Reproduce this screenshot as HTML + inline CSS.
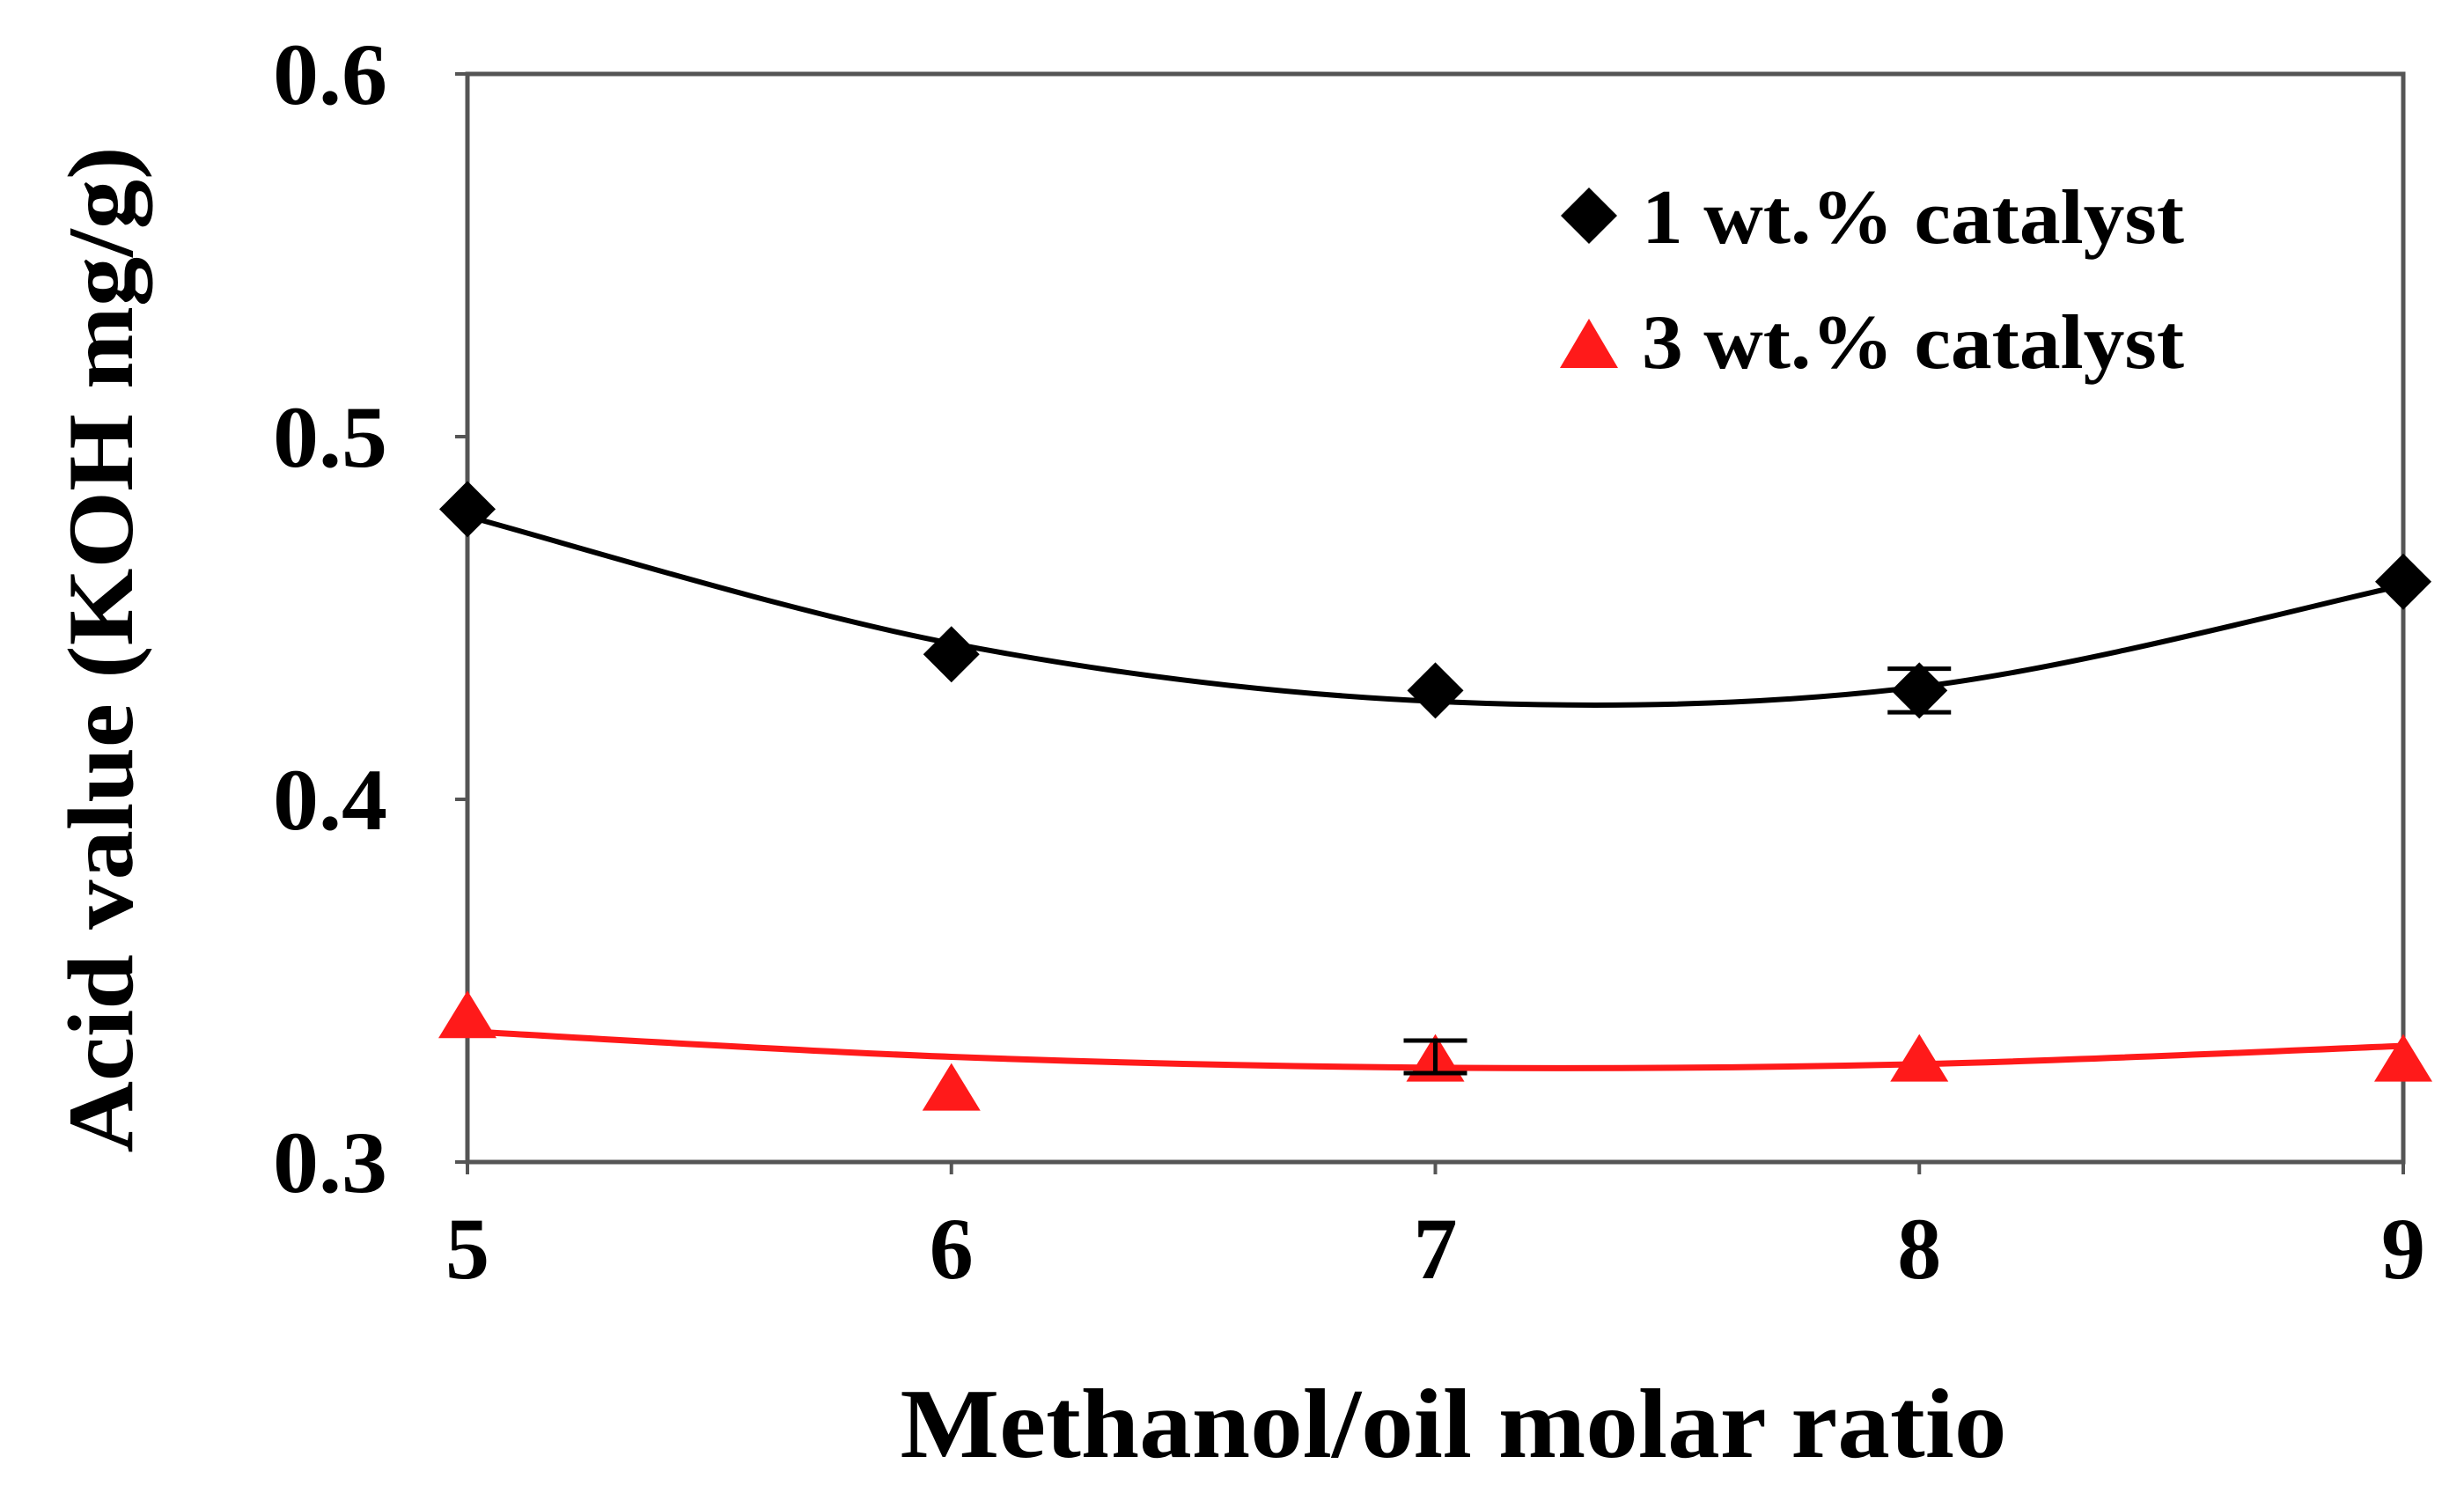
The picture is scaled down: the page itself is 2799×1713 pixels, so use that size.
<!DOCTYPE html>
<html><head><meta charset="utf-8"><style>html,body{margin:0;padding:0;background:#fff;}svg{display:block;}</style></head>
<body>
<svg id="chart" width="2799" height="1713" xmlns="http://www.w3.org/2000/svg" font-family="'Liberation Serif', serif" font-weight="bold"></svg>
<script>
const categories = [5, 6, 7, 8, 9];
const series1 = [0.48, 0.44, 0.43, 0.43, 0.46];
const series1Trend = [0.478, 0.443, 0.427, 0.431, 0.459];
const series2 = [0.34, 0.32, 0.328, 0.328, 0.328];
const series2Trend = [0.336, 0.329, 0.326, 0.327, 0.332];
const yTicks = [0.3, 0.4, 0.5, 0.6];
const yTickLabels = ["0.3", "0.4", "0.5", "0.6"];
const err1 = [0, 0, 0, 0.006, 0];
const err2 = [0, 0, 0.0045, 0, 0];

const svg = document.getElementById('chart');
const NS = 'http://www.w3.org/2000/svg';
const L = 531, R = 2730, T = 84, B = 1320;
const xS = v => L + (v - 5) / 4 * (R - L);
const yS = v => B - (v - 0.3) / 0.3 * (B - T);
function mk(tag, attrs, parent) {
  const e = document.createElementNS(NS, tag);
  for (const k in attrs) e.setAttribute(k, attrs[k]);
  (parent || svg).appendChild(e);
  return e;
}
const frame = mk('rect', {x: L, y: T, width: R - L, height: B - T, fill: 'none', stroke: '#555', 'stroke-width': 5});


yTicks.forEach((v, i) => {
  const t = mk('line', {x1: L - 14, x2: L, y1: yS(v), y2: yS(v), stroke: '#555', 'stroke-width': 4});
  
  
  const lb = mk('text', {x: 440, y: yS(v) + 34, 'text-anchor': 'end', 'font-size': 100, fill: '#000', textLength: 130, lengthAdjust: 'spacingAndGlyphs'});
  lb.textContent = yTickLabels[i];
  
  
});
categories.forEach(c => {
  const t = mk('line', {x1: xS(c), x2: xS(c), y1: B, y2: B + 14, stroke: '#555', 'stroke-width': 4});
  
  
  const lb = mk('text', {x: xS(c), y: 1452, 'text-anchor': 'middle', 'font-size': 100, fill: '#000'});
  lb.textContent = String(c);
  
  
});
function smooth(vals) {
  const p = categories.map((c, i) => [xS(c), yS(vals[i])]);
  let d = `M${p[0][0]},${p[0][1]}`;
  for (let i = 0; i < p.length - 1; i++) {
    const p0 = p[Math.max(0, i - 1)], p1 = p[i], p2 = p[i + 1], p3 = p[Math.min(p.length - 1, i + 2)];
    d += ` C${p1[0] + (p2[0] - p0[0]) / 6},${p1[1] + (p2[1] - p0[1]) / 6} ${p2[0] - (p3[0] - p1[0]) / 6},${p2[1] - (p3[1] - p1[1]) / 6} ${p2[0]},${p2[1]}`;
  }
  return d;
}
const c1 = mk('path', {d: smooth(series1Trend), fill: 'none', stroke: '#000', 'stroke-width': 6});


const c2 = mk('path', {d: smooth(series2Trend), fill: 'none', stroke: '#ff1a1a', 'stroke-width': 7});


function errBar(c, v, e, name) {
  if (!e) return;
  const g = mk('g', {stroke: '#000', 'stroke-width': 5});
  
  
  const x = xS(c);
  mk('line', {x1: x, x2: x, y1: yS(v + e), y2: yS(v - e)}, g);
  mk('line', {x1: x - 36, x2: x + 36, y1: yS(v + e), y2: yS(v + e)}, g);
  mk('line', {x1: x - 36, x2: x + 36, y1: yS(v - e), y2: yS(v - e)}, g);
}
series2.forEach((v, i) => {
  const x = xS(categories[i]), y = yS(v);
  const m = mk('polygon', {points: `${x},${y - 30} ${x + 33},${y + 24} ${x - 33},${y + 24}`, fill: '#ff1a1a'});
  
  
});
series1.forEach((v, i) => {
  const x = xS(categories[i]), y = yS(v);
  const m = mk('polygon', {points: `${x},${y - 32} ${x + 32},${y} ${x},${y + 32} ${x - 32},${y}`, fill: '#000'});
  
  
});
series1.forEach((v, i) => errBar(categories[i], v, err1[i], 'error-bar-1wt'));
series2.forEach((v, i) => errBar(categories[i], v + 0.001, err2[i], 'error-bar-3wt'));
</script>
<svg style="position:absolute;left:0;top:0" width="2799" height="1713" xmlns="http://www.w3.org/2000/svg" font-family="'Liberation Serif', serif" font-weight="bold">
  <g>
    <polygon points="1805,213 1837,245 1805,277 1773,245" fill="#000"/>
    <text x="1865" y="276" font-size="88" fill="#000" textLength="616" lengthAdjust="spacingAndGlyphs">1 wt.% catalyst</text>
    <polygon points="1805,362 1838,418 1772,418" fill="#ff1a1a"/>
    <text x="1865" y="418" font-size="88" fill="#000" textLength="616" lengthAdjust="spacingAndGlyphs">3 wt.% catalyst</text>
  </g>
  <text x="1651" y="1655" text-anchor="middle" font-size="112" fill="#000" textLength="1257" lengthAdjust="spacingAndGlyphs">Methanol/oil molar ratio</text>
  <text transform="translate(150,738) rotate(-90)" text-anchor="middle" font-size="106" fill="#000" textLength="1143" lengthAdjust="spacingAndGlyphs">Acid value (KOH mg/g)</text>
</svg>
</body></html>
